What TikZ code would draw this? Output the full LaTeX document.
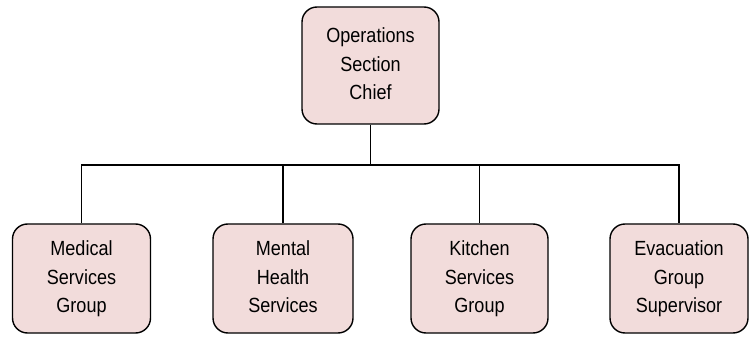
\documentclass[tikz,border=0pt]{standalone}
\usepackage{fontspec}
\setmainfont{Liberation Sans}[FakeStretch=0.88]
\definecolor{boxfill}{HTML}{F2DCDB}
\begin{document}
\begin{tikzpicture}[x=1pt,y=-1pt,
  box/.style={draw=black, line width=1.4pt, fill=boxfill, rounded corners=15pt,
    align=center, font=\fontsize{20.5}{28.5}\selectfont, inner sep=0pt},
  link/.style={draw=black, line width=1.3pt}]
\useasboundingbox (0,0) rectangle (755,339);
\node[box, minimum width=137pt, minimum height=117pt] (top) at (370.5,65.5) {\strut Operations\\Section\\Chief\strut};
\node[box, minimum width=138pt, minimum height=109pt] (med) at (81.5,278.5) {\strut Medical\\Services\\Group\strut};
\node[box, minimum width=140pt, minimum height=109pt] (men) at (283,278.5) {\strut Mental\\Health\\Services\strut};
\node[box, minimum width=137pt, minimum height=109pt] (kit) at (479.5,278.5) {\strut Kitchen\\Services\\Group\strut};
\node[box, minimum width=138pt, minimum height=109pt] (eva) at (679,278.5) {\strut Evacuation\\Group\\Supervisor\strut};
\coordinate (bus) at (370.5,165);
\draw[link] (top.south) -- (bus);
\draw[link] (med.north) |- (bus) -| (eva.north);
\draw[link] (men.north) -- (men.north |- bus);
\draw[link] (kit.north) -- (kit.north |- bus);
\end{tikzpicture}
\end{document}
